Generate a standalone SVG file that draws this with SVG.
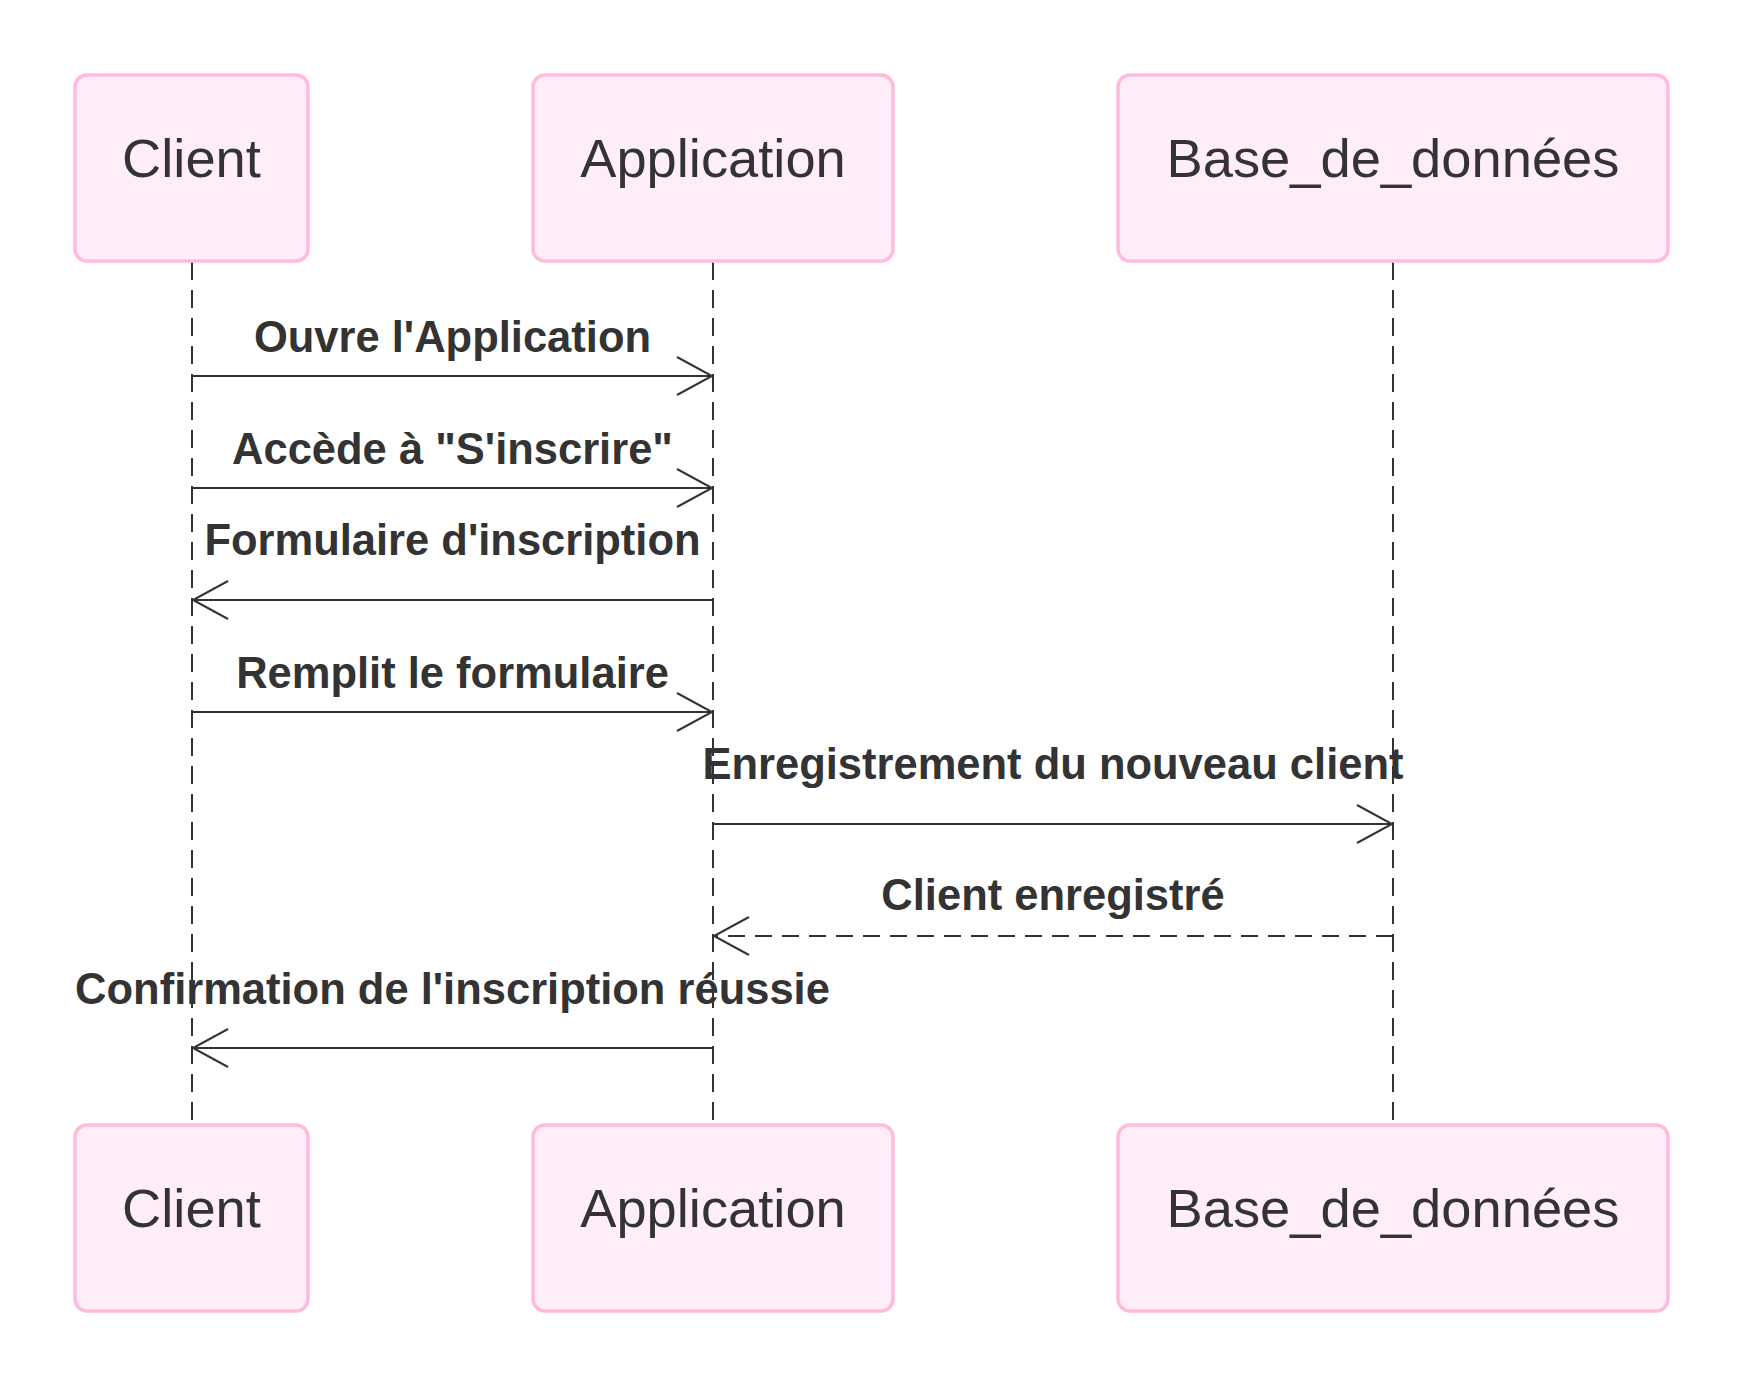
<svg xmlns="http://www.w3.org/2000/svg" width="1744" height="1388" viewBox="0 0 1744 1388">
<style>
.actor{fill:#ffeefa;stroke:#ffbbdb;stroke-width:3.5}
.atext{font-family:"Liberation Sans",Arial,sans-serif;font-size:54.3px;fill:#333;text-anchor:middle}
.mtext{font-family:"Liberation Sans",Arial,sans-serif;font-size:43.5px;font-weight:bold;fill:#333;text-anchor:middle}
.life{stroke:#333;stroke-width:2;stroke-dasharray:18 10;fill:none}
.msg{stroke:#333;stroke-width:2;fill:none;marker-end:url(#arr)}
.dash{stroke-dasharray:17 10}
.head{fill:none;stroke:#333;stroke-width:2;stroke-dasharray:none}
</style>
<defs>
<marker id="arr" markerUnits="userSpaceOnUse" markerWidth="40" markerHeight="44" viewBox="0 0 40 44" refX="36" refY="22" orient="auto">
<path class="head" d="M1,3 L36,22 L1,41"/>
</marker>
</defs>
<rect width="1744" height="1388" fill="#ffffff"/>
<g id="lifelines">
<line class="life" x1="192" y1="262" x2="192" y2="1124"/>
<line class="life" x1="713" y1="262" x2="713" y2="1124"/>
<line class="life" x1="1393" y1="262" x2="1393" y2="1124"/>
</g>
<g id="client-top"><rect class="actor" x="75" y="75" width="233" height="186" rx="12"/><text class="atext" x="191.5" y="177">Client</text></g>
<g id="application-top"><rect class="actor" x="533" y="75" width="360" height="186" rx="12"/><text class="atext" x="713" y="177">Application</text></g>
<g id="base-top"><rect class="actor" x="1118" y="75" width="550" height="186" rx="12"/><text class="atext" x="1393" y="177">Base_de_données</text></g>
<g id="client-bottom"><rect class="actor" x="75" y="1125" width="233" height="186" rx="12"/><text class="atext" x="191.5" y="1227">Client</text></g>
<g id="application-bottom"><rect class="actor" x="533" y="1125" width="360" height="186" rx="12"/><text class="atext" x="713" y="1227">Application</text></g>
<g id="base-bottom"><rect class="actor" x="1118" y="1125" width="550" height="186" rx="12"/><text class="atext" x="1393" y="1227">Base_de_données</text></g>
<g id="connectors">
<text class="mtext" x="452.5" y="352">Ouvre l'Application</text>
<line class="msg" x1="192" y1="376" x2="712" y2="376"/>
<text class="mtext" x="452.5" y="464">Accède à "S'inscrire"</text>
<line class="msg" x1="192" y1="488" x2="712" y2="488"/>
<text class="mtext" x="452.5" y="555">Formulaire d'inscription</text>
<line class="msg" x1="713" y1="600" x2="193" y2="600"/>
<text class="mtext" x="452.5" y="688">Remplit le formulaire</text>
<line class="msg" x1="192" y1="712" x2="712" y2="712"/>
<text class="mtext" x="1053" y="779">Enregistrement du nouveau client</text>
<line class="msg" x1="713" y1="824" x2="1392" y2="824"/>
<text class="mtext" x="1053" y="910">Client enregistré</text>
<line class="msg dash" x1="1393" y1="936" x2="714" y2="936"/>
<text class="mtext" x="452.5" y="1004">Confirmation de l'inscription réussie</text>
<line class="msg" x1="713" y1="1048" x2="193" y2="1048"/>
</g>
</svg>
